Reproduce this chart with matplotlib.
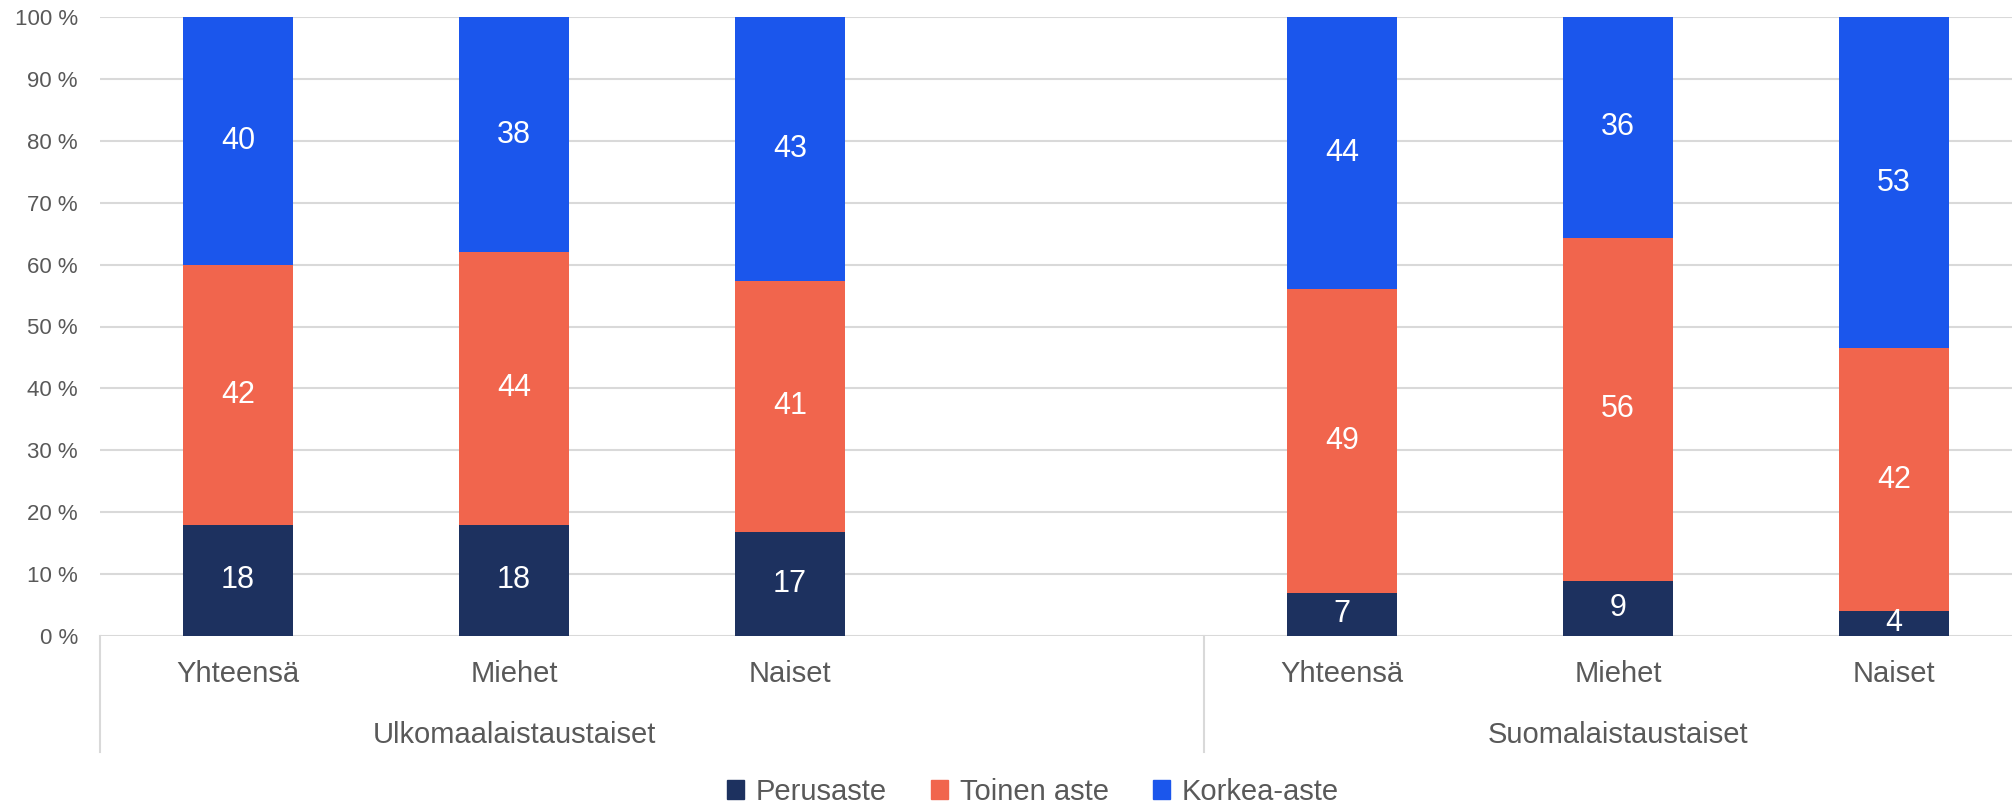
import matplotlib
matplotlib.use("Agg")
import matplotlib.pyplot as plt
from matplotlib.patches import Patch
import numpy as np

# --- data ---
groups = ["Ulkomaalaistaustaiset", "Suomalaistaustaiset"]
subgroups = ["Yhteensä", "Miehet", "Naiset"]
series = ["Perusaste", "Toinen aste", "Korkea-aste"]
perusaste = [18, 18, 17, 7, 9, 4]
toinen_aste = [42, 44, 41, 49, 56, 42]
korkea_aste = [40, 38, 43, 44, 36, 53]
y_ticks = list(range(0, 101, 10))

colors = ["#1d315f", "#f1654d", "#1b56ec"]
grey = "#595959"
plt.rcParams["font.family"] = ["Liberation Sans", "DejaVu Sans"]

# positions: 3 bars, one empty slot, 3 bars
pos = np.array([0, 1, 2, 4, 5, 6])
vals = np.array([perusaste, toinen_aste, korkea_aste], dtype=float)
shares = vals / vals.sum(axis=0) * 100  # 100 % stacked

fig = plt.figure(figsize=(20.12, 8.06), dpi=100)
ax = fig.add_axes([100 / 2012, 170 / 806, 1 - 100 / 2012, (636 - 17) / 806])

bottom = np.zeros(len(pos))
for i, name in enumerate(series):
    ax.bar(pos, shares[i], bottom=bottom, width=0.4, color=colors[i],
           label=name, zorder=3)
    for x, b, h, v in zip(pos, bottom, shares[i], vals[i]):
        ax.text(x, b + h / 2, f"{v:.0f}", ha="center", va="center",
                color="white", fontsize=22, zorder=4)
    bottom += shares[i]

ax.set_ylim(0, 100)
ax.set_xlim(-0.5, -0.5 + (2012 - 100) / 276)
ax.set_yticks(y_ticks)
ax.set_yticklabels([f"{t} %" for t in y_ticks], color=grey, fontsize=16)
ax.tick_params(axis="y", length=0, pad=16)
ax.set_xticks([])
ax.grid(axis="y", color="#d9d9d9", linewidth=1.5, zorder=0)
for s in ax.spines.values():
    s.set_visible(False)
ax.axhline(0, color="#d9d9d9", linewidth=2, zorder=2)

# two-level category axis
tr = ax.get_xaxis_transform()
for x, lab in zip(pos, subgroups * 2):
    ax.text(x, -0.062, lab, transform=tr, ha="center", va="center",
            color=grey, fontsize=21)
for cx, g in zip([1, 5], groups):
    ax.text(cx, -0.16, g, transform=tr, ha="center", va="center",
            color=grey, fontsize=21)
for sx in [-0.5, 3.5, 6.5]:
    ax.plot([sx, sx], [0, -0.187], transform=tr, color="#d9d9d9",
            linewidth=1.5, clip_on=False)

handles = [Patch(color=c, label=n) for c, n in zip(colors, series)]
fig.legend(handles=handles, loc="center", bbox_to_anchor=(1033 / 2012, 1 - 792 / 806),
           ncol=3, frameon=False, fontsize=21, handlelength=0.6, handleheight=0.6,
           handletextpad=0.4, columnspacing=1.5, labelcolor=grey)

fig.savefig("out.png", dpi=100)
